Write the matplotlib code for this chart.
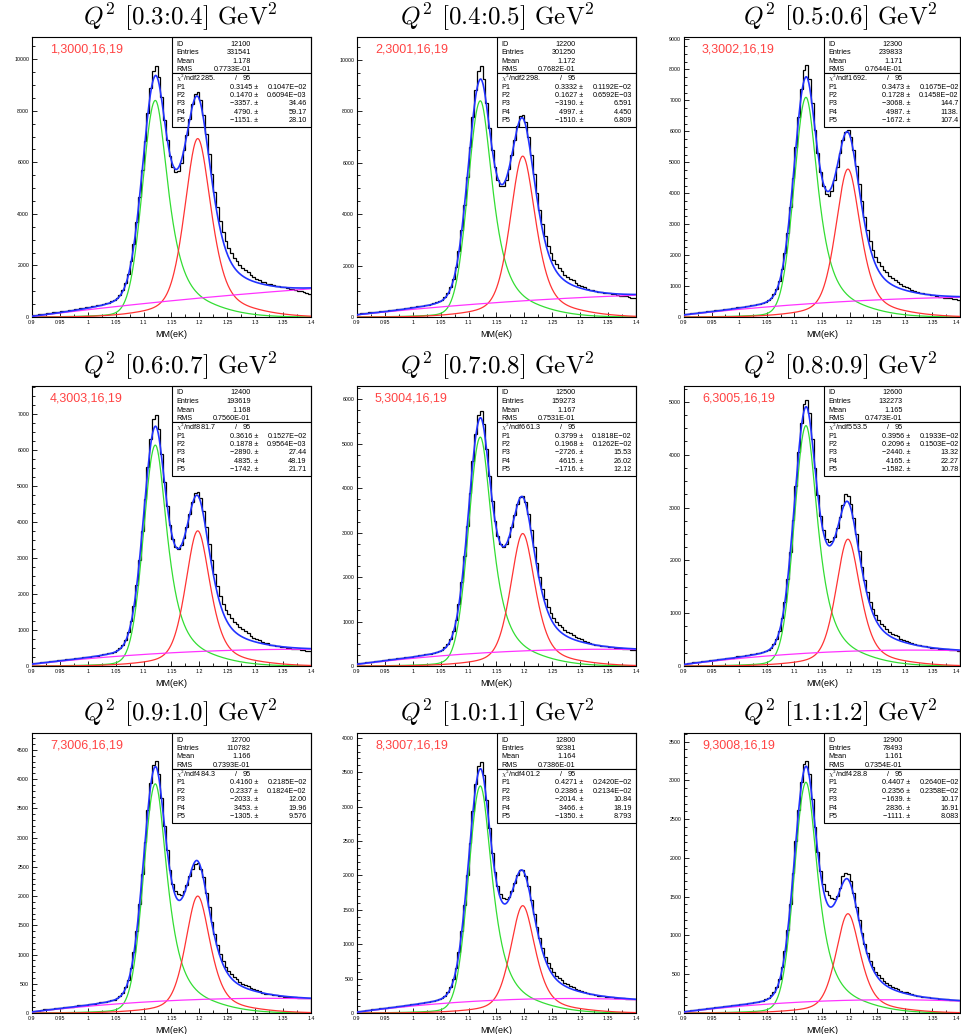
import numpy as np
import matplotlib
matplotlib.use("Agg")
import matplotlib.pyplot as plt
from matplotlib.ticker import MultipleLocator, FixedLocator
from matplotlib.patches import Rectangle

plt.rcParams['font.family'] = ['Liberation Sans', 'DejaVu Sans']
plt.rcParams['mathtext.fontset'] = 'cm'

q2_ranges = ["0.3:0.4", "0.4:0.5", "0.5:0.6", "0.6:0.7", "0.7:0.8", "0.8:0.9", "0.9:1.0", "1.0:1.1", "1.1:1.2"]
run_labels = ["1,3000,16,19", "2,3001,16,19", "3,3002,16,19", "4,3003,16,19", "5,3004,16,19",
              "6,3005,16,19", "7,3006,16,19", "8,3007,16,19", "9,3008,16,19"]
hist_ids = ["12100", "12200", "12300", "12400", "12500", "12600", "12700", "12800", "12900"]
entries = ["331541", "301250", "239833", "193619", "159273", "132273", "110782", "92381", "78493"]
means = ["1.178", "1.172", "1.171", "1.168", "1.167", "1.165", "1.166", "1.164", "1.161"]
rms = ["0.7733E-01", "0.7682E-01", "0.7644E-01", "0.7560E-01", "0.7531E-01", "0.7473E-01", "0.7393E-01", "0.7386E-01", "0.7354E-01"]
chi2 = ["2285.", "2298.", "1692.", "881.7", "661.3", "553.5", "484.3", "401.2", "428.8"]
par1 = ["0.3145", "0.3332", "0.3473", "0.3616", "0.3799", "0.3956", "0.4160", "0.4271", "0.4407"]
err1 = ["0.1047E-02", "0.1192E-02", "0.1675E-02", "0.1527E-02", "0.1818E-02", "0.1933E-02", "0.2185E-02", "0.2420E-02", "0.2640E-02"]
par2 = ["0.1470", "0.1627", "0.1728", "0.1878", "0.1968", "0.2096", "0.2337", "0.2386", "0.2356"]
err2 = ["0.6094E-03", "0.6592E-03", "0.1458E-02", "0.9564E-03", "0.1262E-02", "0.1503E-02", "0.1824E-02", "0.2134E-02", "0.2358E-02"]
par3 = [-3357., -3190., -3068., -2890., -2726., -2440., -2033., -2014., -1639.]
err3 = ["34.46", "6.591", "144.7", "27.44", "15.53", "13.32", "12.00", "10.84", "10.17"]
par4 = [4790., 4997., 4987., 4835., 4615., 4165., 3453., 3466., 2836.]
err4 = ["59.17", "4.450", "1138.", "48.19", "26.02", "22.27", "19.96", "18.19", "16.91"]
par5 = [-1151., -1510., -1672., -1742., -1716., -1582., -1305., -1350., -1111.]
err5 = ["28.10", "6.809", "107.4", "21.71", "12.12", "10.78", "9.576", "8.793", "8.083"]

h_03_04 = [70, 80, 100, 110, 130, 150, 160, 180, 190, 210,
           220, 240, 250, 270, 290, 300, 320, 340, 360, 370,
           390, 410, 430, 450, 480, 500, 530, 560, 610, 660,
           750, 870, 1050, 1310, 1680, 2190, 2850, 3670, 4650, 5720,
           6840, 7930, 8890, 9550, 9730, 9320, 8530, 7650, 6870, 6250,
           5830, 5630, 5680, 5970, 6460, 7060, 7690, 8260, 8650, 8710,
           8420, 7850, 7110, 6330, 5560, 4860, 4250, 3730, 3310, 2960,
           2690, 2470, 2300, 2160, 2000, 1900, 1810, 1730, 1620, 1550,
           1490, 1430, 1360, 1340, 1280, 1270, 1230, 1190, 1190, 1180,
           1160, 1130, 1100, 1070, 1040, 1010, 990, 960, 940, 910]
h_04_05 = [130, 140, 150, 160, 180, 190, 200, 210, 230, 240,
           250, 270, 280, 290, 310, 320, 330, 350, 360, 380,
           390, 410, 430, 440, 460, 480, 510, 530, 570, 610,
           680, 780, 930, 1160, 1490, 1950, 2580, 3380, 4350, 5450,
           6620, 7770, 8810, 9560, 9740, 9230, 8320, 7350, 6490, 5810,
           5340, 5100, 5100, 5330, 5750, 6300, 6890, 7430, 7800, 7860,
           7570, 7000, 6290, 5540, 4820, 4170, 3610, 3150, 2770, 2470,
           2230, 2050, 1900, 1780, 1640, 1560, 1480, 1420, 1320, 1260,
           1210, 1160, 1090, 1060, 1030, 1010, 980, 970, 950, 940,
           920, 900, 880, 850, 830, 810, 800, 760, 730, 720]
h_05_06 = [100, 110, 120, 130, 140, 150, 160, 170, 180, 200,
           210, 220, 230, 240, 250, 260, 270, 290, 300, 310,
           320, 330, 350, 360, 380, 390, 410, 430, 460, 500,
           550, 620, 740, 910, 1170, 1550, 2060, 2730, 3550, 4490,
           5490, 6480, 7370, 7990, 8140, 7700, 6910, 6060, 5300, 4690,
           4230, 3960, 3900, 4070, 4420, 4850, 5310, 5720, 5990, 6040,
           5830, 5410, 4870, 4290, 3740, 3240, 2810, 2460, 2180, 1950,
           1780, 1640, 1530, 1440, 1320, 1250, 1190, 1130, 1060, 1010,
           970, 930, 860, 830, 800, 780, 760, 740, 730, 720,
           700, 680, 660, 650, 630, 610, 600, 580, 570, 550]
h_06_07 = [80, 80, 90, 100, 110, 120, 130, 140, 150, 160,
           170, 180, 190, 190, 200, 210, 220, 230, 240, 250,
           260, 270, 280, 290, 310, 320, 330, 350, 370, 400,
           440, 500, 590, 730, 940, 1240, 1670, 2240, 2950, 3760,
           4640, 5510, 6300, 6850, 6970, 6580, 5870, 5110, 4440, 3900,
           3530, 3310, 3260, 3350, 3560, 3860, 4220, 4560, 4790, 4830,
           4650, 4300, 3850, 3390, 2950, 2560, 2230, 1950, 1730, 1560,
           1430, 1320, 1230, 1160, 1070, 1020, 960, 910, 840, 790,
           750, 720, 660, 640, 630, 590, 570, 560, 550, 540,
           520, 510, 500, 480, 470, 460, 450, 440, 430, 420]
h_07_08 = [60, 70, 70, 80, 90, 100, 110, 120, 120, 130,
           140, 150, 160, 160, 170, 180, 190, 200, 200, 210,
           220, 230, 240, 250, 260, 270, 280, 300, 310, 340,
           370, 420, 490, 610, 780, 1040, 1400, 1880, 2470, 3160,
           3890, 4610, 5230, 5650, 5740, 5440, 4890, 4270, 3710, 3260,
           2930, 2750, 2680, 2740, 2900, 3130, 3400, 3640, 3810, 3830,
           3690, 3410, 3050, 2680, 2320, 2000, 1730, 1510, 1330, 1190,
           1090, 1000, 930, 880, 810, 770, 740, 700, 650, 620,
           600, 570, 530, 510, 500, 480, 470, 460, 450, 440,
           430, 420, 410, 410, 400, 390, 390, 380, 370, 370]
h_08_09 = [40, 50, 60, 70, 70, 80, 90, 90, 100, 110,
           110, 120, 130, 130, 140, 150, 150, 160, 170, 180,
           180, 190, 200, 210, 220, 230, 240, 250, 260, 280,
           310, 350, 420, 520, 670, 900, 1220, 1640, 2160, 2770,
           3410, 4050, 4600, 4960, 5040, 4780, 4290, 3740, 3240, 2840,
           2570, 2410, 2350, 2360, 2450, 2610, 2820, 3050, 3260, 3210,
           3060, 2800, 2490, 2170, 1880, 1620, 1400, 1220, 1070, 960,
           870, 800, 750, 700, 650, 610, 590, 560, 520, 500,
           480, 460, 430, 410, 400, 390, 380, 370, 360, 350,
           350, 340, 330, 330, 320, 320, 310, 300, 300, 290]
h_09_10 = [30, 40, 40, 50, 60, 60, 70, 70, 80, 80,
           90, 100, 100, 110, 110, 120, 130, 130, 140, 140,
           150, 160, 160, 170, 180, 180, 190, 200, 220, 230,
           260, 290, 350, 440, 570, 770, 1040, 1410, 1860, 2370,
           2930, 3470, 3940, 4240, 4310, 4090, 3670, 3200, 2780, 2440,
           2210, 2080, 2030, 2020, 2080, 2190, 2340, 2470, 2550, 2560,
           2470, 2330, 2060, 1810, 1560, 1350, 1160, 1010, 890, 790,
           720, 660, 620, 580, 530, 500, 480, 460, 430, 410,
           390, 380, 350, 330, 320, 320, 310, 300, 290, 290,
           280, 280, 270, 270, 270, 260, 260, 250, 250, 250]
h_10_11 = [24, 30, 35, 41, 46, 51, 57, 62, 67, 72,
           78, 83, 88, 93, 98, 104, 109, 114, 119, 125,
           130, 136, 142, 148, 154, 161, 168, 177, 188, 203,
           223, 254, 302, 376, 488, 653, 884, 1189, 1567, 2004,
           2472, 2929, 3326, 3592, 3649, 3454, 3095, 2695, 2332, 2044,
           1846, 1729, 1672, 1658, 1690, 1772, 1887, 2002, 2077, 2080,
           1996, 1842, 1649, 1446, 1253, 1083, 938, 819, 723, 649,
           590, 545, 508, 479, 438, 416, 397, 379, 351, 336,
           323, 310, 287, 278, 269, 261, 254, 247, 242, 236,
           232, 227, 223, 219, 215, 211, 208, 204, 201, 197]
h_11_12 = [24, 28, 33, 37, 42, 46, 50, 54, 59, 63,
           67, 71, 76, 80, 84, 88, 93, 97, 101, 106,
           110, 115, 120, 125, 130, 136, 143, 151, 161, 176,
           196, 226, 271, 341, 444, 594, 802, 1073, 1410, 1799,
           2215, 2622, 2973, 3205, 3253, 3081, 2762, 2404, 2079, 1827,
           1664, 1572, 1516, 1477, 1469, 1514, 1606, 1760, 1810, 1795,
           1700, 1545, 1371, 1198, 1037, 895, 774, 675, 596, 533,
           485, 447, 416, 392, 359, 341, 325, 311, 289, 277,
           266, 256, 239, 231, 223, 217, 211, 206, 201, 197,
           192, 189, 185, 181, 178, 175, 172, 169, 166, 163]

lam_amp = [8400, 8400, 7100, 6130, 5150, 4550, 3920, 3300, 2975]
sig_amp = [6920, 6250, 4780, 3750, 2980, 2400, 2000, 1560, 1280]
width_scale = [1.08, 1.04, 1.02, 1.0, 1.0, 1.0, 1.0, 1.0, 1.0]
y_max = [10860, 10880, 9050, 7770, 6300, 5300, 4790, 4070, 3610]
y_major = [2000, 2000, 1000, 1000, 1000, 1000, 500, 500, 500]
y_minor = [500, 500, 250, 250, 250, 250, 100, 100, 100]

hists = [h_03_04, h_04_05, h_05_06, h_06_07, h_07_08, h_08_09, h_09_10, h_10_11, h_11_12]

edges = np.linspace(0.9, 1.4, 101)


def peak(x, amp, mean, wl, etal, wr, etar):
    d = x - mean
    w = np.where(d < 0, wl, wr)
    eta = np.where(d < 0, etal, etar)
    u = (d / w) ** 2
    f = eta / (1 + u) + (1 - eta) * np.exp(-np.log(2) * u)
    f = f * np.exp(-(np.clip(np.abs(d) - 0.1, 0, None) / 0.1) ** 2)
    return amp * f


def comps(x, i):
    s = width_scale[i]
    lam = peak(x, lam_amp[i], 1.121, 0.025 * s, 0.1, 0.026 * s, 0.9)
    sig = peak(x, sig_amp[i], 1.197, 0.026 * s, 0.45, 0.027 * s, 0.65)
    bg = par3[i] + par4[i] * x + par5[i] * x ** 2
    return lam, sig, bg


W, H = 961, 1034
fig = plt.figure(figsize=(W / 100, H / 100), dpi=100)
col_left = [32, 357, 684]
col_w = [279, 279, 276]
row_top = [37, 386, 733]
ax_h = 280
title_cx = [180, 497, 840]
xt = [0.9, 0.95, 1.0, 1.05, 1.1, 1.15, 1.2, 1.25, 1.3, 1.35, 1.4]
xtl = ["0.9", "0.95", "1", "1.05", "1.1", "1.15", "1.2", "1.25", "1.3", "1.35", "1.4"]

for i in range(9):
    r, c = divmod(i, 3)
    ax_w = col_w[c]
    ax = fig.add_axes([col_left[c] / W, 1 - (row_top[r] + ax_h) / H, ax_w / W, ax_h / H])
    ax.stairs(hists[i], edges, color='black', lw=0.9, zorder=2)
    xf = np.linspace(0.9, 1.4, 600)
    l2, s2, b2 = comps(xf, i)
    ax.plot(xf, l2, color='#33dd33', lw=0.9, zorder=3)
    ax.plot(xf, s2, color='#ff3333', lw=0.9, zorder=3)
    ax.plot(xf, b2, color='#ff33ff', lw=0.9, zorder=3)
    ax.plot(xf, l2 + s2 + b2, color='#2233ff', lw=1.2, zorder=4)
    ax.set_xlim(0.9, 1.4)
    ax.set_ylim(0, y_max[i])
    ax.xaxis.set_major_locator(FixedLocator(xt))
    ax.set_xticklabels(xtl)
    ax.xaxis.set_minor_locator(MultipleLocator(0.025))
    ax.yaxis.set_major_locator(MultipleLocator(y_major[i]))
    ax.yaxis.set_minor_locator(MultipleLocator(y_minor[i]))
    ax.tick_params(which='both', direction='in', top=False, right=False, labelsize=3.8, width=0.6, pad=2)
    ax.tick_params(which='major', length=3.5)
    ax.tick_params(which='minor', length=2)
    if c == 2:
        ax.get_xticklabels()[-1].set_ha('right')
    for sp in ax.spines.values():
        sp.set_linewidth(0.8)
    ax.set_xlabel("MM(eK)", fontsize=6.5, labelpad=4)
    ax.text(18 / ax_w, 0.954, run_labels[i], transform=ax.transAxes, color='#ff4444', fontsize=9, va='center', ha='left')
    bx = 140 / ax_w
    ax.add_patch(Rectangle((bx, 0.872), 1 - bx, 0.128, transform=ax.transAxes, fc='white', ec='black', lw=0.8, zorder=1.5, clip_on=False))
    ax.add_patch(Rectangle((bx, 0.680), 1 - bx, 0.192, transform=ax.transAxes, fc='white', ec='black', lw=0.8, zorder=1.5, clip_on=False))
    fs = 5.2
    ys = [7, 15.5, 24, 32.2, 41.5, 50, 58.4, 66.8, 75.2, 83.6]
    yy = [1 - v / ax_h for v in ys]
    lx, vx, px, ex, sx = 144 / ax_w, 218.7 / ax_w, 226.3 / ax_w, 274.7 / ax_w, 203 / ax_w
    kw = dict(transform=ax.transAxes, fontsize=fs, va='center', zorder=1.6)
    ax.text(lx, yy[0], "ID", ha='left', **kw); ax.text(vx, yy[0], hist_ids[i], ha='right', **kw)
    ax.text(lx, yy[1], "Entries", ha='left', **kw); ax.text(vx, yy[1], entries[i], ha='right', **kw)
    ax.text(lx, yy[2], "Mean", ha='left', **kw); ax.text(vx, yy[2], means[i], ha='right', **kw)
    ax.text(lx, yy[3], "RMS", ha='left', **kw); ax.text(vx, yy[3], rms[i], ha='right', **kw)
    ax.text(lx, yy[4], r"$\chi^2$/ndf" + chi2[i], ha='left', **kw)
    ax.text(sx, yy[4], "/", ha='left', **kw); ax.text(vx, yy[4], "95", ha='right', **kw)
    pv = [par1[i], par2[i], "%d." % par3[i], "%d." % par4[i], "%d." % par5[i]]
    pe = [err1[i], err2[i], err3[i], err4[i], err5[i]]
    for k in range(5):
        ax.text(lx, yy[5 + k], "P%d" % (k + 1), ha='left', **kw)
        ax.text(px, yy[5 + k], pv[k].replace('-', '\u2212') + " \u00b1", ha='right', **kw)
        ax.text(ex, yy[5 + k], pe[k].replace('-', '\u2212'), ha='right', **kw)
    fig.text(title_cx[c] / W, 1 - (row_top[r] - 12) / H,
             r"$Q^2$ [%s] GeV$^2$" % q2_ranges[i],
             fontsize=18, ha='center', va='baseline', family='cmr10')

fig.savefig("out.png", dpi=100)
